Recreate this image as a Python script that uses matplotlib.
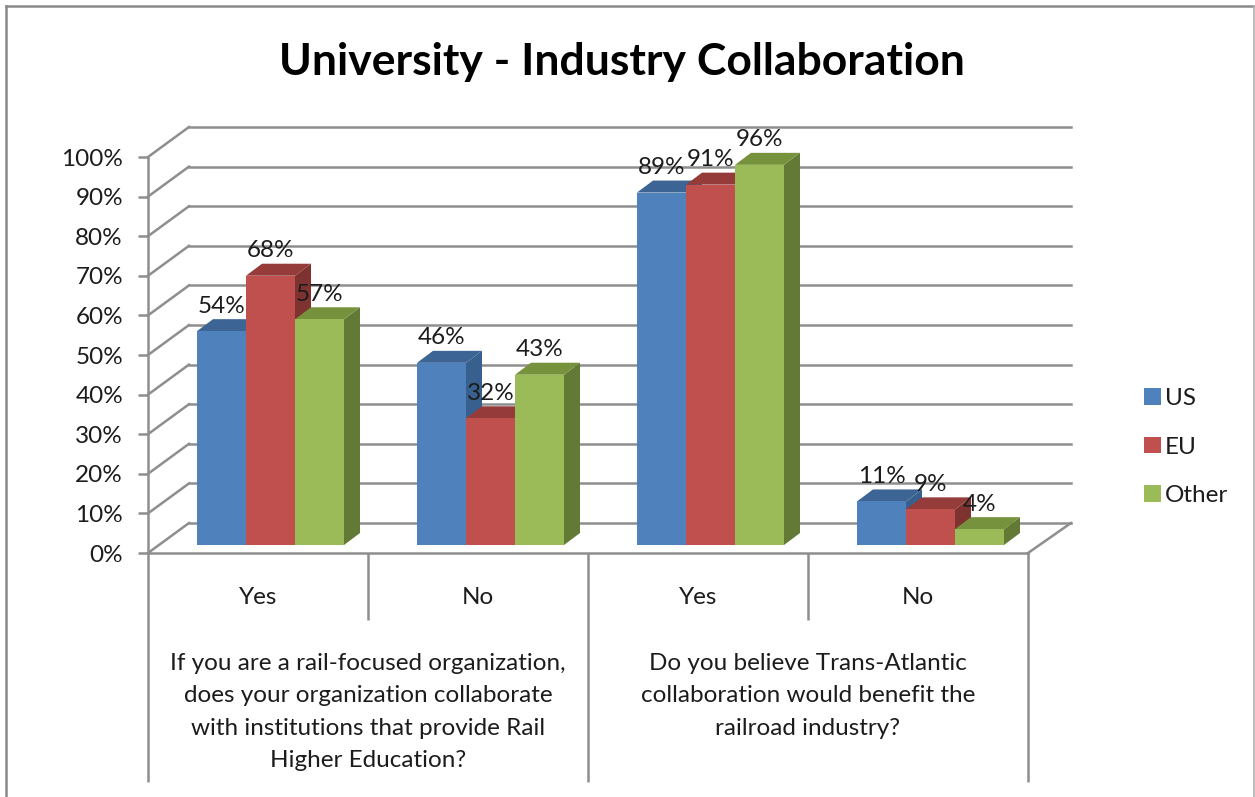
import matplotlib
matplotlib.use("Agg")
import numpy as np
import matplotlib.pyplot as plt
from matplotlib.patches import Polygon

plt.rcParams['font.family'] = ['Lato', 'DejaVu Sans']

categories = ['Yes', 'No', 'Yes', 'No']
questions = [
    'If you are a rail-focused organization,\ndoes your organization collaborate\nwith institutions that provide Rail\nHigher Education?',
    'Do you believe Trans-Atlantic\ncollaboration would benefit the\nrailroad industry?',
]
series = ['US', 'EU', 'Other']
us_vals = [54, 46, 89, 11]
eu_vals = [68, 32, 91, 9]
other_vals = [57, 43, 96, 4]
y_ticks = [0, 10, 20, 30, 40, 50, 60, 70, 80, 90, 100]

W, H = 1255, 797
X0, Y0 = 148, 553      # pixel position of data (0, 0)
PX_X = 1 / 220         # one pixel in x data units
PX_Y = 1 / 3.96        # one pixel in y data units
FS = 17.5

front = ['#4f81bd', '#c0504d', '#9bbb59']
top = ['#3c6595', '#953c3a', '#76923c']
side = ['#38608f', '#7f3331', '#637a36']
grid_c = '#8e8e8e'
txt_c = '#1c1c1c'

fig = plt.figure(figsize=(W / 100, H / 100), dpi=100)
ax = fig.add_axes([0, 0, 1, 1])
ax.set_xlim(-X0 * PX_X, (W - X0) * PX_X)
ax.set_ylim((Y0 - H) * PX_Y, Y0 * PX_Y)

# axis line and ticks
for s in ['top', 'right', 'bottom']:
    ax.spines[s].set_visible(False)
ax.spines['left'].set_position(('data', 0))
ax.spines['left'].set_bounds(0, 100)
ax.spines['left'].set_color(grid_c)
ax.spines['left'].set_linewidth(1.8)
ax.set_yticks(y_ticks, [f'{v}%' for v in y_ticks])
ax.tick_params(axis='y', direction='out', length=7, width=1.8, color=grid_c,
               pad=11, labelsize=FS, labelcolor=txt_c)
ax.set_xticks([])

# walls
wall_dx, wall_dy = 41 * PX_X, 30 * PX_Y
n = len(categories)
for v in y_ticks:
    ax.plot([0, wall_dx], [v, v + wall_dy], color=grid_c, lw=1.8, zorder=1)
    ax.plot([wall_dx, n + 43 * PX_X], [v + wall_dy, v + wall_dy], color=grid_c, lw=1.8, zorder=1)
ax.plot([n, n + 43 * PX_X], [0, wall_dy], color=grid_c, lw=1.8, zorder=1)
ax.plot([0, n], [0, 0], color=grid_c, lw=1.8, zorder=1)

# category separators
low_y = (Y0 - 620) * PX_Y
deep_y = (Y0 - 782) * PX_Y
for i in range(n + 1):
    ax.plot([i, i], [0, deep_y if i % 2 == 0 else low_y], color=grid_c, lw=1.8, zorder=1,
            solid_capstyle='butt')

# bars
bar_w = 49 * PX_X
bar_base = 8 * PX_Y
dx, dy = 16 * PX_X, 12 * PX_Y
values = [us_vals, eu_vals, other_vals]
handles = []
for j, vals in enumerate(values):
    lefts = np.arange(n) + bar_w * (j + 1)
    for i, v in enumerate(vals):
        x = lefts[i]
        y = v + bar_base
        z = 2 + i + j * 0.1
        ax.add_patch(Polygon([(x + bar_w, bar_base), (x + bar_w + dx, bar_base + dy),
                              (x + bar_w + dx, y + dy), (x + bar_w, y)],
                             fc=side[j], ec='none', zorder=z))
        ax.add_patch(Polygon([(x, y), (x + dx, y + dy), (x + bar_w + dx, y + dy), (x + bar_w, y)],
                             fc=top[j], ec='none', zorder=z))
    bars = ax.bar(lefts, vals, width=bar_w, bottom=bar_base, align='edge',
                  color=front[j], label=series[j])
    handles.append(bars)
    # the front faces must stack with their own depth pieces
    for i, b in enumerate(bars):
        b.set_zorder(2 + i + j * 0.1 + 0.05)
    for i, v in enumerate(vals):
        ax.text(lefts[i] + bar_w / 2, v + bar_base + 25 * PX_Y, f'{v}%', ha='center',
                va='center', fontsize=FS, color=txt_c, zorder=20)

# category and question labels
label_y = (Y0 - 598) * PX_Y
for i, c in enumerate(categories):
    ax.text(i + 0.5, label_y, c, ha='center', va='center', fontsize=FS, color=txt_c)
ax.text(1, (Y0 - 712) * PX_Y, questions[0], ha='center', va='center', fontsize=FS,
        color=txt_c, linespacing=1.66)
ax.text(3, (Y0 - 696) * PX_Y, questions[1], ha='center', va='center', fontsize=FS,
        color=txt_c, linespacing=1.66)

fig.text(622 / W, 1 - 62 / H, 'University - Industry Collaboration', ha='center', va='center',
         fontsize=32, fontweight='bold', color='black')

ax.legend(handles=handles, labels=series, loc='center left',
          bbox_to_anchor=(1122 / W, 1 - 447 / H), bbox_transform=fig.transFigure,
          frameon=False, fontsize=FS, handlelength=0.72, handleheight=0.65,
          handletextpad=0.15, labelspacing=1.13, labelcolor=txt_c)

# outer chart border
fig.add_artist(plt.Line2D([6 / W, 6 / W], [0, 1 - 6 / H], color='#8a8a8a', lw=1.8))
fig.add_artist(plt.Line2D([6 / W, 1], [1 - 6 / H, 1 - 6 / H], color='#8a8a8a', lw=1.8))
fig.add_artist(plt.Line2D([1254 / W, 1254 / W], [0, 1 - 6 / H], color='#b0b0b0', lw=1.2))

fig.savefig('out.png', dpi=100)
